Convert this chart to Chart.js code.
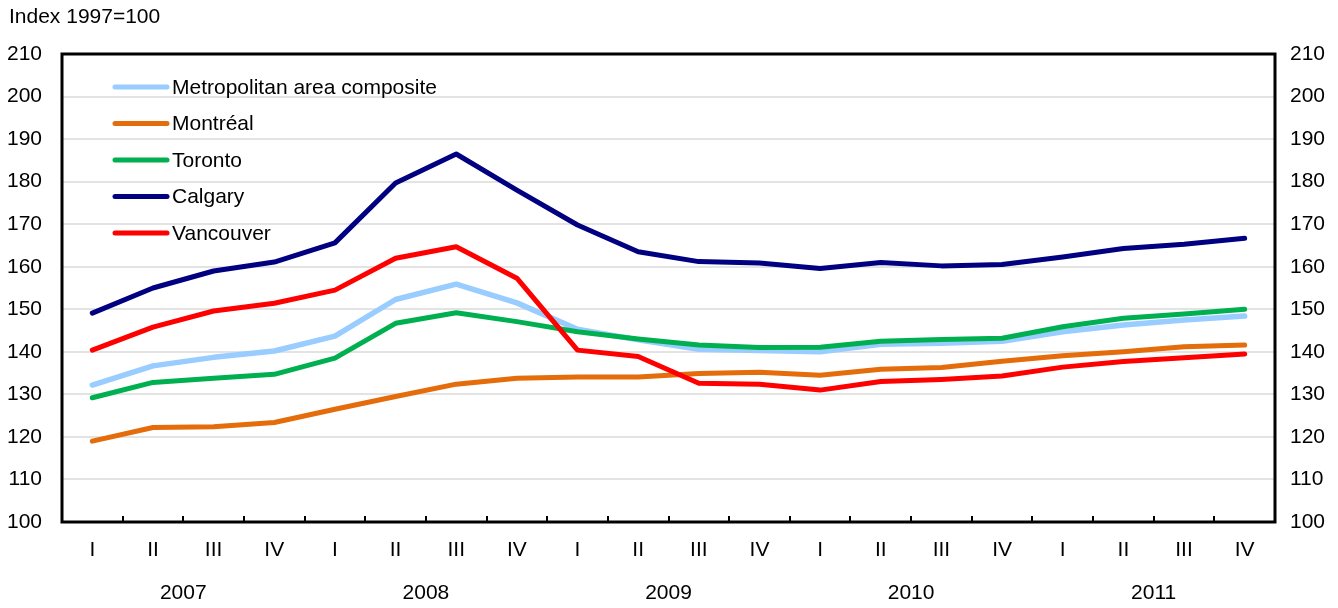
<!DOCTYPE html>
<html>
<head>
<meta charset="utf-8">
<title>House price index by metropolitan area</title>
<script src="https://cdn.jsdelivr.net/npm/chart.js@4.4.0/dist/chart.umd.min.js"></script>
<style>
  html, body { margin: 0; padding: 0; background: #fff; }
  #chart { display: block; }
</style>
</head>
<body>
<canvas id="chart" width="1338" height="608"></canvas>
<script>
const quarters = ["I", "II", "III", "IV", "I", "II", "III", "IV", "I", "II", "III", "IV",
  "I", "II", "III", "IV", "I", "II", "III", "IV"];
const years = ["2007", "2008", "2009", "2010", "2011"];

const metroComposite = [132.2, 136.7, 138.7, 140.2, 143.7, 152.3, 155.9, 151.5, 145.3, 142.8,
  140.6, 140.3, 140.0, 141.8, 142.0, 142.5, 144.7, 146.3, 147.5, 148.4];
const montreal = [119.0, 122.2, 122.4, 123.4, 126.5, 129.5, 132.4, 133.8, 134.1, 134.1,
  134.9, 135.2, 134.5, 135.9, 136.3, 137.8, 139.1, 140.0, 141.2, 141.6];
const toronto = [129.2, 132.8, 133.8, 134.7, 138.5, 146.7, 149.2, 147.1, 144.7, 143.0,
  141.6, 141.0, 141.1, 142.5, 142.9, 143.2, 145.9, 147.9, 148.9, 150.0];
const calgary = [149.1, 155.0, 159.0, 161.1, 165.6, 179.7, 186.5, 178.0, 169.8, 163.5,
  161.2, 160.9, 159.6, 161.0, 160.2, 160.5, 162.3, 164.3, 165.3, 166.7];
const vancouver = [140.4, 145.8, 149.6, 151.4, 154.5, 162.0, 164.7, 157.3, 140.4, 138.9,
  132.6, 132.4, 131.0, 133.0, 133.5, 134.3, 136.4, 137.7, 138.6, 139.5];

const FONT = "'Liberation Sans', Arial, sans-serif";
const fontSize = 21;

// frame, inner tick marks, unit label and in-plot legend
const decorations = {
  id: "decorations",
  afterDatasetsDraw(chart) {
    const { ctx, chartArea: area } = chart;
    const x = chart.scales.x;
    ctx.save();

    ctx.strokeStyle = "#000";
    ctx.lineWidth = 2;
    for (let i = 1; i < quarters.length; i++) {
      const px = Math.round((x.getPixelForValue(i - 1) + x.getPixelForValue(i)) / 2);
      ctx.beginPath();
      ctx.moveTo(px, area.bottom);
      ctx.lineTo(px, area.bottom - 6);
      ctx.stroke();
    }
    ctx.lineWidth = 3;
    ctx.strokeRect(area.left, area.top, area.right - area.left, area.bottom - area.top);

    ctx.fillStyle = "#000";
    ctx.font = fontSize + "px " + FONT;
    ctx.textBaseline = "middle";
    ctx.textAlign = "left";
    ctx.fillText("Index 1997=100", 9, 17);

    chart.data.datasets.forEach((ds, i) => {
      const y = 87 + i * 36.5;
      ctx.strokeStyle = ds.borderColor;
      ctx.lineWidth = 5;
      ctx.lineCap = "round";
      ctx.beginPath();
      ctx.moveTo(115, y);
      ctx.lineTo(167, y);
      ctx.stroke();
      ctx.fillText(ds.label, 172, y + 1);
    });
    ctx.restore();
  }
};

function lineSet(label, data, color, width, order) {
  return {
    label: label,
    data: data,
    borderColor: color,
    backgroundColor: color,
    borderWidth: width,
    pointRadius: 0,
    tension: 0,
    borderCapStyle: "round",
    borderJoinStyle: "round",
    order: order,
    xAxisID: "x",
    yAxisID: "y"
  };
}

new Chart(document.getElementById("chart"), {
  type: "line",
  data: {
    labels: quarters,
    datasets: [
      lineSet("Metropolitan area composite", metroComposite, "#99ccff", 5.5, 5),
      lineSet("Montréal", montreal, "#e46c0a", 5, 4),
      lineSet("Toronto", toronto, "#00b050", 5, 3),
      lineSet("Calgary", calgary, "#000080", 5, 2),
      lineSet("Vancouver", vancouver, "#ff0000", 5, 1)
    ]
  },
  options: {
    responsive: false,
    animation: false,
    devicePixelRatio: 1,
    layout: { padding: { top: 54, left: 0, right: 0, bottom: 0 } },
    plugins: {
      legend: { display: false },
      tooltip: { enabled: false }
    },
    scales: {
      x: {
        type: "category",
        position: "bottom",
        offset: true,
        grid: { display: false },
        border: { display: false },
        ticks: { color: "#000", font: { family: FONT, size: fontSize }, padding: 8, maxRotation: 0, autoSkip: false },
        afterFit: scale => { scale.height = 43; }
      },
      years: {
        type: "category",
        labels: years,
        position: "bottom",
        offset: true,
        grid: { display: false },
        border: { display: false },
        ticks: { color: "#000", font: { family: FONT, size: fontSize }, padding: 8, maxRotation: 0 },
        afterFit: scale => { scale.height = 43; }
      },
      y: {
        position: "left",
        min: 100,
        max: 210,
        grid: { color: "#e3e3e3", lineWidth: 2, drawTicks: false },
        border: { display: false },
        ticks: { stepSize: 10, color: "#000", font: { family: FONT, size: fontSize }, padding: 20 },
        afterFit: scale => { scale.width = 62; }
      },
      y2: {
        position: "right",
        min: 100,
        max: 210,
        grid: { display: false, drawTicks: false },
        border: { display: false },
        ticks: { stepSize: 10, color: "#000", font: { family: FONT, size: fontSize }, padding: 15 },
        afterFit: scale => { scale.width = 63; }
      }
    }
  },
  plugins: [decorations]
});
</script>
</body>
</html>
